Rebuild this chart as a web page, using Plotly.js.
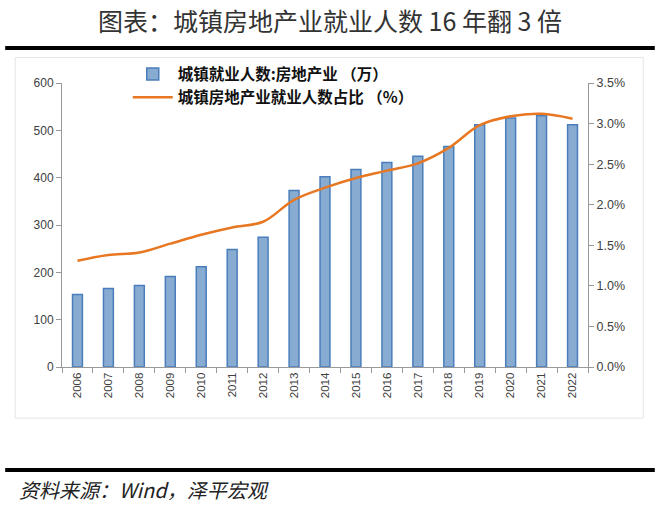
<!DOCTYPE html>
<html>
<head>
<meta charset="utf-8">
<script src="https://cdn.plot.ly/plotly-3.0.1.min.js"></script>
<style>
  html, body { margin: 0; padding: 0; background: #fff; }
  #chart { width: 660px; height: 510px; }
</style>
</head>
<body>
<div id="chart"></div>
<script>
var years = ['2006', '2007', '2008', '2009', '2010', '2011', '2012', '2013', '2014',
             '2015', '2016', '2017', '2018', '2019', '2020', '2021', '2022'];
// 城镇就业人数:房地产业(万)
var employed = [153, 166, 172, 191, 212, 248, 274, 373, 402,
                417, 432, 445, 466, 512, 526, 531, 512];
// 占比(%)
var share = [1.31, 1.38, 1.41, 1.52, 1.63, 1.72, 1.79, 2.06, 2.21,
             2.33, 2.42, 2.51, 2.70, 2.98, 3.09, 3.12, 3.06];

var barTrace = {
    x: years,
    y: employed,
    name: '城镇就业人数:房地产业 （万）',
    type: 'bar',
    width: 0.32,
    marker: {
        color: '#88ABD2',
        line: { color: '#4A7EBB', width: 1.5 }
    }
};

var lineTrace = {
    x: years,
    y: share,
    name: '城镇房地产业就业人数占比 （%）',
    type: 'scatter',
    mode: 'lines',
    yaxis: 'y2',
    line: { color: '#E87722', width: 2.5, shape: 'spline', smoothing: 1 }
};

var grey = '#404040';
var axisFont = { family: 'Liberation Sans, Arial, sans-serif', size: 12, color: grey };

var layout = {
    width: 660,
    height: 510,
    margin: { l: 62, r: 72, t: 83, b: 143 },
    paper_bgcolor: '#fff',
    plot_bgcolor: 'rgba(0,0,0,0)',
    showlegend: true,
    legend: {
        x: 0.125, y: 1.09, xanchor: 'left', yanchor: 'top',
        bgcolor: 'rgba(0,0,0,0)',
        font: { family: 'Noto Sans CJK SC', size: 15.5, color: '#111', weight: 'bold' },
        tracegroupgap: 2,
        itemwidth: 40
    },
    bargap: 0.5,
    xaxis: {
        type: 'category',
        tickangle: -90,
        tickfont: { family: 'Liberation Sans, Arial, sans-serif', size: 11.5, color: grey },
        showline: true, linecolor: '#999', linewidth: 1,
        ticks: 'outside', tickson: 'boundaries', ticklen: 5, tickcolor: '#999',
        showgrid: false, zeroline: false
    },
    yaxis: {
        range: [0, 600], dtick: 100,
        tickfont: axisFont,
        showline: true, linecolor: '#999', linewidth: 1,
        ticks: 'outside', ticklen: 5, tickcolor: '#999',
        showgrid: false, zeroline: false
    },
    yaxis2: {
        overlaying: 'y', side: 'right',
        range: [0, 3.5], dtick: 0.5, tickformat: '.1f', ticksuffix: '%',
        tickfont: { family: 'Liberation Sans, Arial, sans-serif', size: 12.5, color: grey },
        showline: true, linecolor: '#999', linewidth: 1,
        ticks: 'outside', ticklen: 5, tickcolor: '#999',
        showgrid: false, zeroline: false
    },
    shapes: [
        { type: 'rect', xref: 'paper', yref: 'paper', x0: -0.089, x1: 1.105, y0: -0.18, y1: 1.09,
          line: { color: '#e4e4e4', width: 1 }, layer: 'below' },
        { type: 'line', xref: 'paper', yref: 'paper', x0: -0.108, x1: 1.127, y0: 1.123, y1: 1.123,
          line: { color: '#000', width: 4 } },
        { type: 'line', xref: 'paper', yref: 'paper', x0: -0.108, x1: 1.127, y0: -0.363, y1: -0.363,
          line: { color: '#000', width: 4 } }
    ],
    annotations: [
        { text: '图表：城镇房地产业就业人数 16 年翻 3 倍', xref: 'paper', yref: 'paper',
          x: 0.51, y: 1.222, xanchor: 'center', yanchor: 'middle', showarrow: false,
          font: { family: 'Noto Sans CJK SC', size: 25, color: '#333' } },
        { text: '<i>资料来源：Wind，泽平宏观</i>', xref: 'paper', yref: 'paper',
          x: -0.085, y: -0.433, xanchor: 'left', yanchor: 'middle', showarrow: false,
          font: { family: 'Noto Sans CJK SC', size: 20, color: '#222' } }
    ]
};

Plotly.newPlot('chart', [barTrace, lineTrace], layout, { displayModeBar: false, staticPlot: true });
</script>
</body>
</html>
